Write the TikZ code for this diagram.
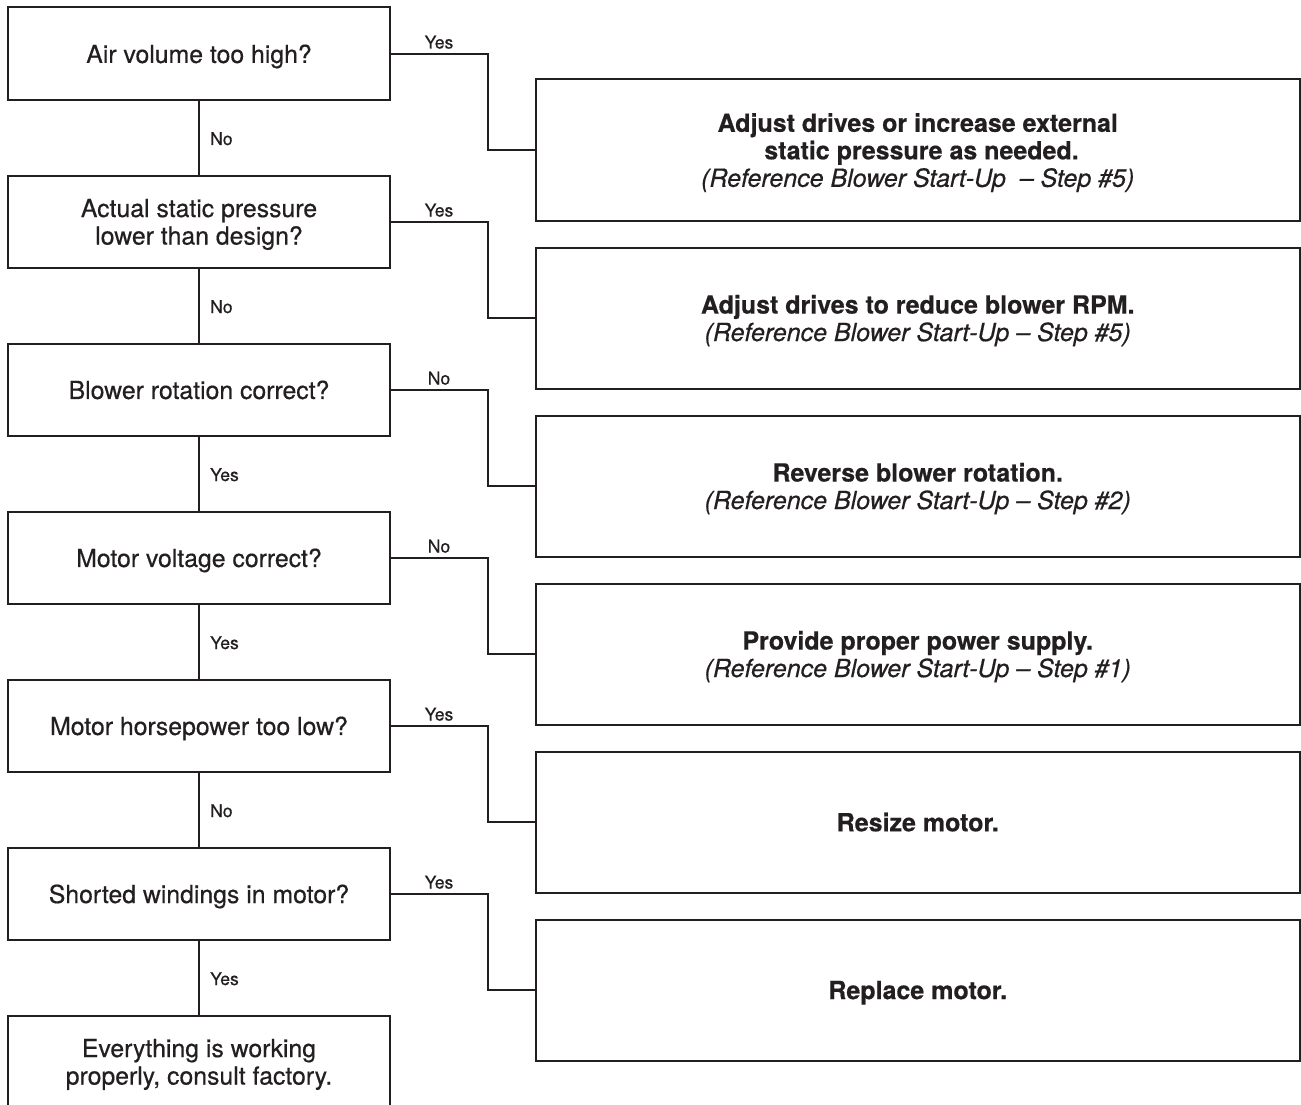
\documentclass[tikz,border=0pt]{standalone}
\usepackage{fontspec}
\setmainfont{TeX Gyre Heros}[FakeBold=0.5]
\definecolor{ink}{RGB}{35,31,32}
\begin{document}
\begin{tikzpicture}[x=1pt,y=-1pt,
  qbox/.style={draw=ink, line width=2pt, minimum width=382pt, minimum height=92.5pt, inner sep=0pt, align=center, text=ink, text depth=0pt, font=\fontsize{24.8}{27.5}\selectfont},
  abox/.style={draw=ink, line width=2pt, minimum width=763.5pt, minimum height=141pt, inner sep=0pt, align=center, text=ink, text depth=0pt, font=\fontsize{25}{27.5}\selectfont},
  lbl/.style={text=ink, font=\fontsize{17.5}{20}\selectfont, inner sep=0pt},
  conn/.style={draw=ink, line width=1.8pt}
]
\useasboundingbox (0,0) rectangle (1301,1105);
\clip (0,0) rectangle (1301,1105);
\fill[white] (0,0) rectangle (1301,1105);

% question boxes
\node[qbox] (q1) at (199,53.75) {Air volume too high?};
\node[qbox] (q2) at (199,221.75) {Actual static pressure\\lower than design?};
\node[qbox] (q3) at (199,389.75) {Blower rotation correct?};
\node[qbox] (q4) at (199,557.75) {Motor voltage correct?};
\node[qbox] (q5) at (199,725.75) {Motor horsepower too low?};
\node[qbox] (q6) at (199,893.75) {Shorted windings in motor?};
\node[qbox] (q7) at (199,1061.75) {Everything is working\\properly, consult factory.};

% action boxes
\node[abox] (a1) at (917.75,150) {\textbf{Adjust drives or increase external}\\\hspace*{0.3em}\textbf{static pressure as needed.}\\\textit{(Reference Blower Start-Up\ \ – Step \#5)}};
\node[abox] (a2) at (917.75,318) {\textbf{Adjust drives to reduce blower RPM.}\\\textit{(Reference Blower Start-Up – Step \#5)}};
\node[abox] (a3) at (917.75,486) {\textbf{Reverse blower rotation.}\\\textit{(Reference Blower Start-Up – Step \#2)}};
\node[abox] (a4) at (917.75,654) {\textbf{Provide proper power supply.}\\\textit{(Reference Blower Start-Up – Step \#1)}};
\node[abox] (a5) at (917.75,822) {\textbf{Resize motor.}};
\node[abox] (a6) at (917.75,990) {\textbf{Replace motor.}};

% side connectors
\foreach \i in {1,...,6}{
  \draw[conn] (q\i.east) -- ++(97,0) |- (a\i.west);
}
% down connectors
\draw[conn] (q1.south) -- (q2.north);
\draw[conn] (q2.south) -- (q3.north);
\draw[conn] (q3.south) -- (q4.north);
\draw[conn] (q4.south) -- (q5.north);
\draw[conn] (q5.south) -- (q6.north);
\draw[conn] (q6.south) -- (q7.north);

% side labels
\node[lbl, anchor=base] (h1) at (439,48.5) {Yes};
\node[lbl, anchor=base] (h2) at (439,216.5) {Yes};
\node[lbl, anchor=base] (h3) at (439,384.5) {No};
\node[lbl, anchor=base] (h4) at (439,552.5) {No};
\node[lbl, anchor=base] (h5) at (439,720.5) {Yes};
\node[lbl, anchor=base] (h6) at (439,888.5) {Yes};

% down labels
\node[lbl, anchor=base west] (v1) at (210,145) {No};
\node[lbl, anchor=base west] (v2) at (210,313) {No};
\node[lbl, anchor=base west] (v3) at (210,481) {Yes};
\node[lbl, anchor=base west] (v4) at (210,649) {Yes};
\node[lbl, anchor=base west] (v5) at (210,817) {No};
\node[lbl, anchor=base west] (v6) at (210,985) {Yes};
\end{tikzpicture}
\end{document}
